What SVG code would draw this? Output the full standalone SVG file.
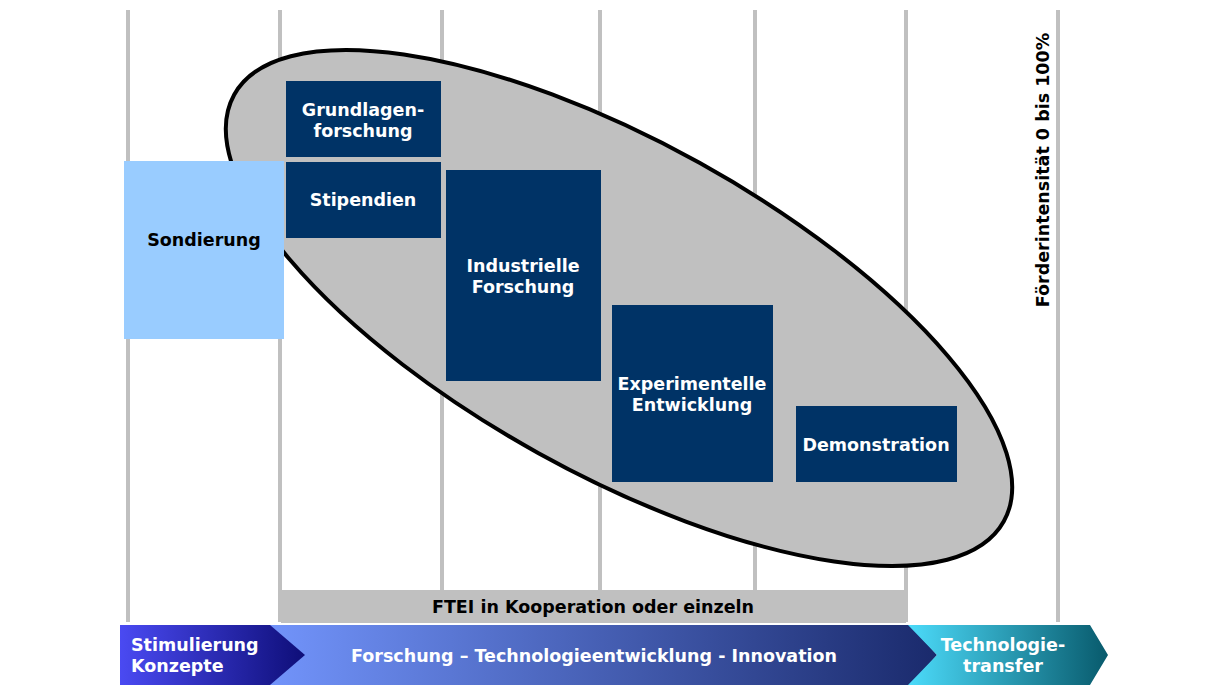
<svg xmlns="http://www.w3.org/2000/svg" width="1220" height="691" viewBox="0 0 1220 691">
<style>
.vl{stroke:#c0c0c0;stroke-width:4;fill:none}
.box{fill:#003366}
.wt{font-family:"DejaVu Sans",Verdana,sans-serif;font-weight:bold;font-size:17.5px;fill:#ffffff;text-anchor:middle}
.bt{font-family:"DejaVu Sans",Verdana,sans-serif;font-weight:bold;font-size:17.5px;fill:#000000;text-anchor:middle}
</style>
<defs>
<linearGradient id="gStim" x1="0" y1="0" x2="1" y2="0">
<stop offset="0" stop-color="#4a4af2"/>
<stop offset="1" stop-color="#0e0e78"/>
</linearGradient>
<linearGradient id="gFor" x1="0" y1="0" x2="1" y2="0">
<stop offset="0" stop-color="#7294fb"/>
<stop offset="1" stop-color="#1a2a6c"/>
</linearGradient>
<linearGradient id="gTech" x1="0" y1="0" x2="1" y2="0">
<stop offset="0" stop-color="#4cdbfa"/>
<stop offset="1" stop-color="#085a6c"/>
</linearGradient>
</defs>
<rect width="1220" height="691" fill="#ffffff"/>
<g id="grid">
<line class="vl" x1="128" y1="10" x2="128" y2="622"/>
<line class="vl" x1="280" y1="10" x2="280" y2="622"/>
<line class="vl" x1="442" y1="10" x2="442" y2="622"/>
<line class="vl" x1="600" y1="10" x2="600" y2="622"/>
<line class="vl" x1="755" y1="10" x2="755" y2="622"/>
<line class="vl" x1="906" y1="10" x2="906" y2="622"/>
<line class="vl" x1="1058" y1="10" x2="1058" y2="622"/>
</g>
<g id="ellipse">
<ellipse cx="619" cy="308" rx="440" ry="166" transform="rotate(29 619 308)" fill="#c0c0c0" stroke="#000000" stroke-width="4"/>
</g>
<g id="sondierung">
<rect x="124" y="161" width="160" height="178" fill="#99ccff"/>
<text class="bt" x="204" y="246">Sondierung</text>
</g>
<g id="grundlagen">
<rect class="box" x="286" y="81" width="155" height="76"/>
<text class="wt" x="363" y="116">Grundlagen-</text>
<text class="wt" x="363" y="137">forschung</text>
</g>
<g id="stipendien">
<rect class="box" x="286" y="162" width="155" height="76"/>
<text class="wt" x="363" y="206">Stipendien</text>
</g>
<g id="industrielle">
<rect class="box" x="446" y="170" width="155" height="211"/>
<text class="wt" x="523" y="272">Industrielle</text>
<text class="wt" x="523" y="293">Forschung</text>
</g>
<g id="experimentelle">
<rect class="box" x="612" y="305" width="161" height="177"/>
<text class="wt" x="692" y="390">Experimentelle</text>
<text class="wt" x="692" y="411">Entwicklung</text>
</g>
<g id="demonstration">
<rect class="box" x="796" y="406" width="161" height="76"/>
<text class="wt" x="876" y="451">Demonstration</text>
</g>
<g id="ftei">
<rect x="281" y="590" width="625" height="33" fill="#c0c0c0"/>
<text class="bt" x="593" y="613">FTEI in Kooperation oder einzeln</text>
</g>
<g id="foerder">
<text class="bt" transform="translate(1049 170) rotate(-90)">Förderintensität 0 bis 100%</text>
</g>
<g id="connectors"></g>
<g id="phase-forschung">
<polygon points="268,625 910,625 937,655 910,685 268,685" fill="url(#gFor)"/>
<text class="wt" x="594" y="662">Forschung – Technologieentwicklung - Innovation</text>
</g>
<g id="phase-tech">
<polygon points="908,625 1090,625 1108,655 1090,685 908,685 937,655" fill="url(#gTech)"/>
<text class="wt" x="1003" y="651">Technologie-</text>
<text class="wt" x="1003" y="672">transfer</text>
</g>
<g id="phase-stim">
<polygon points="120,625 270,625 305,655 270,685 120,685" fill="url(#gStim)"/>
<text class="wt" x="131" y="651" style="text-anchor:start">Stimulierung</text>
<text class="wt" x="131" y="672" style="text-anchor:start">Konzepte</text>
</g>
</svg>
